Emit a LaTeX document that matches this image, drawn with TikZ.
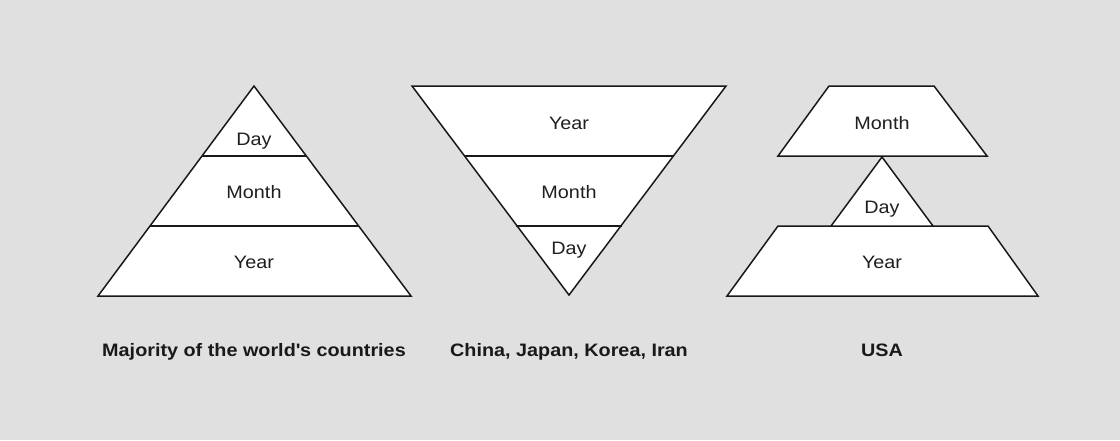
\documentclass[tikz,border=0pt]{standalone}
\usepackage{fontspec}
\setmainfont{Liberation Sans}[FakeStretch=1.1]
\begin{document}
\begin{tikzpicture}[x=1pt,y=-1pt,
  shp/.style={draw=black!90,fill=white,line width=1.5pt,line join=miter},
  lbl/.style={anchor=base,inner sep=0pt,font=\fontsize{18}{20}\selectfont,text=black!88},
  captxt/.style={anchor=base,inner sep=0pt,font=\fontsize{18}{20}\selectfont\bfseries,text=black!90}]
\fill[fill={rgb,255:red,224;green,224;blue,224}] (0,0) rectangle (1120,440);
\useasboundingbox (0,0) rectangle (1120,440);
% pyramid 1
\draw[shp] (254,86) -- (411,296) -- (98,296) -- cycle;
\draw[shp] (202,156) -- (306,156);
\draw[shp] (150,226) -- (358,226);
\node[lbl] (d1) at (254,145) {Day};
\node[lbl] (m1) at (254,198) {Month};
\node[lbl] (y1) at (254,268) {Year};
% inverted pyramid
\draw[shp] (412,86) -- (726,86) -- (569,295) -- cycle;
\draw[shp] (464,156) -- (674,156);
\draw[shp] (516,226) -- (622,226);
\node[lbl] (y2) at (569,129) {Year};
\node[lbl] (m2) at (569,198) {Month};
\node[lbl] (d2) at (569,254) {Day};
% USA
\draw[shp] (829,86) -- (934,86) -- (987,156) -- (778,156) -- cycle;
\draw[shp] (778,226) -- (988,226) -- (1038,296) -- (727,296) -- cycle;
\draw[shp] (882,157) -- (933,226) -- (831,226) -- cycle;
\node[lbl] (m3) at (882,129) {Month};
\node[lbl] (d3) at (882,213) {Day};
\node[lbl] (y3) at (882,268) {Year};
% captions
\node[captxt] (c1) at (254,356) {Majority of the world\textquotesingle s countries};
\node[captxt] (c2) at (569,356) {China, Japan, Korea, Iran};
\node[captxt] (c3) at (882,356) {USA};
\end{tikzpicture}
\end{document}
